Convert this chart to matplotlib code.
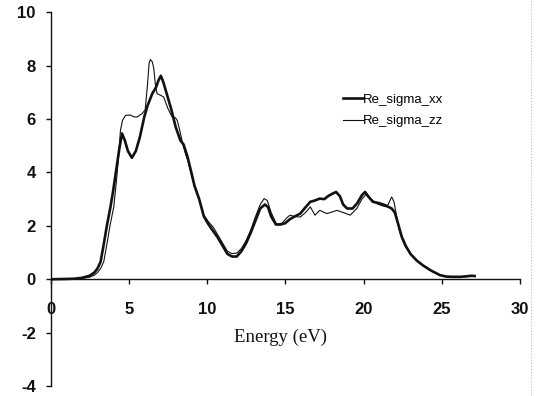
import matplotlib
matplotlib.use("Agg")
import matplotlib.pyplot as plt
from matplotlib.lines import Line2D

# Re_sigma_xx (thick line)
energy_xx = [0.0, 1.0, 1.5, 2.0, 2.5, 2.8, 3.0, 3.2, 3.4, 3.6, 3.83, 4.0, 4.2, 4.4, 4.57,
             4.75, 4.95, 5.2, 5.45, 5.7, 6.0, 6.2, 6.5, 6.75, 6.9, 7.05, 7.2, 7.35, 7.5,
             7.7, 8.0, 8.3, 8.5, 8.75, 9.0, 9.2, 9.5, 9.8, 10.1, 10.4, 10.7, 11.0, 11.3,
             11.6, 11.9, 12.2, 12.5, 12.8, 13.1, 13.4, 13.7, 13.9, 14.1, 14.4, 14.7, 15.0,
             15.3, 15.6, 15.96, 16.3, 16.6, 16.9, 17.2, 17.5, 17.7, 18.0, 18.25, 18.5,
             18.7, 18.95, 19.3, 19.6, 19.9, 20.1, 20.3, 20.6, 21.0, 21.4, 21.8, 22.0,
             22.2, 22.45, 22.7, 23.0, 23.4, 23.8, 24.3, 24.9, 25.3, 25.7, 26.2, 26.6,
             26.9, 27.1]
sigma_xx = [0.0, 0.01, 0.02, 0.05, 0.13, 0.25, 0.4, 0.65, 1.3, 2.0, 2.7, 3.3, 4.1, 4.9, 5.46,
            5.2, 4.8, 4.55, 4.8, 5.3, 6.1, 6.5, 6.95, 7.2, 7.45, 7.62, 7.4, 7.1, 6.8,
            6.4, 5.7, 5.2, 5.05, 4.6, 4.0, 3.5, 3.0, 2.35, 2.05, 1.8, 1.55, 1.25, 0.95,
            0.85, 0.85, 1.05, 1.35, 1.75, 2.2, 2.65, 2.8, 2.7, 2.35, 2.05, 2.05, 2.1,
            2.25, 2.35, 2.46, 2.7, 2.9, 2.95, 3.02, 3.0, 3.1, 3.2, 3.27, 3.1,
            2.8, 2.65, 2.65, 2.85, 3.15, 3.27, 3.1, 2.9, 2.85, 2.77, 2.65, 2.5,
            2.1, 1.58, 1.25, 0.95, 0.7, 0.52, 0.33, 0.15, 0.1, 0.09, 0.09, 0.11,
            0.13, 0.12]

# Re_sigma_zz (thin line)
energy_zz = [0.0, 1.0, 1.5, 2.0, 2.5, 2.8, 3.0, 3.2, 3.4, 3.6, 3.8, 4.04, 4.2, 4.35, 4.47,
             4.6, 4.8, 5.1, 5.35, 5.55, 5.7, 5.85, 6.05, 6.2, 6.3, 6.38, 6.5, 6.6, 6.7,
             6.81, 7.0, 7.23, 7.5, 7.75, 7.98, 8.1, 8.25, 8.4, 8.6, 8.8, 9.1, 9.5, 9.8,
             10.1, 10.4, 10.64, 11.0, 11.3, 11.6, 11.9, 12.2, 12.5, 12.8, 13.1, 13.4,
             13.65, 13.85, 14.1, 14.45, 14.8, 15.1, 15.3, 15.6, 15.96, 16.3, 16.6, 16.9,
             17.2, 17.66, 18.0, 18.3, 18.7, 19.15, 19.57, 19.9, 20.2, 20.5, 20.85, 21.2,
             21.5, 21.65, 21.8, 21.95, 22.1, 22.3, 22.5, 22.7, 23.0, 23.4, 23.8, 24.3,
             24.9, 25.3, 25.7, 26.2, 26.6, 26.9, 27.1]
sigma_zz = [0.0, 0.005, 0.01, 0.03, 0.08, 0.15, 0.25, 0.4, 0.65, 1.3, 2.0, 2.7, 3.6, 4.6, 5.58,
            5.95, 6.14, 6.15, 6.08, 6.08, 6.15, 6.2, 6.35, 7.3, 8.1, 8.23, 8.15, 7.9, 7.3,
            6.95, 6.9, 6.83, 6.4, 6.1, 6.05, 5.95, 5.6, 5.2, 4.75, 4.4, 3.7, 3.0, 2.4,
            2.15, 1.95, 1.71, 1.35, 1.05, 0.96, 0.98, 1.15, 1.45, 1.85, 2.35, 2.8,
            3.02, 2.95, 2.5, 2.05, 2.1, 2.3, 2.4, 2.35, 2.33, 2.5, 2.71, 2.4,
            2.58, 2.46, 2.52, 2.58, 2.5, 2.4, 2.65, 3.0, 3.21, 3.0, 2.83, 2.75,
            2.71, 2.9, 3.08, 2.9, 2.4, 1.8, 1.45, 1.2, 0.95, 0.7, 0.5, 0.32,
            0.14, 0.09, 0.08, 0.08, 0.1, 0.12, 0.11]

x_ticks = [0, 5, 10, 15, 20, 25, 30]
y_ticks = [-4, -2, 0, 2, 4, 6, 8, 10]
labels = ["Re_sigma_xx", "Re_sigma_zz"]
x_label = "Energy (eV)"

fig = plt.figure(figsize=(5.48, 3.96), dpi=100)
ax = fig.add_axes([50.5 / 548, 10 / 396, 469.5 / 548, 373.7 / 396])

ax.plot(energy_xx, sigma_xx, color="#111111", lw=1.9, label=labels[0], solid_joinstyle="round")
ax.plot(energy_zz, sigma_zz, color="#111111", lw=0.8, label=labels[1], solid_joinstyle="round")

ax.set_xlim(0, 30)
ax.set_ylim(-4, 10)
ax.spines["top"].set_visible(False)
ax.spines["right"].set_visible(False)
ax.spines["bottom"].set_position(("data", 0))
for s in ("left", "bottom"):
    ax.spines[s].set_linewidth(1.0)
    ax.spines[s].set_color("#111111")

ax.set_xticks(x_ticks)
ax.set_yticks(y_ticks)
ax.set_xticklabels([str(v) for v in x_ticks], fontfamily="Liberation Sans",
                   fontweight="bold", fontsize=12)
ax.set_yticklabels([str(v) for v in y_ticks], fontfamily="Liberation Sans",
                   fontweight="bold", fontsize=12)
ax.tick_params(axis="x", direction="out", length=3.6, width=1.0, pad=13, colors="#111111")
ax.tick_params(axis="y", direction="out", length=3.6, width=1.0, pad=7, colors="#111111")

ax.text(14.7, -2.17, x_label, ha="center", va="center",
        fontfamily="Liberation Serif", fontsize=13.5, color="#111111")

leg = ax.legend(loc="upper left", bbox_to_anchor=(0.624, 0.782), frameon=False,
                prop={"family": "Liberation Sans", "size": 9.5},
                handlelength=1.45, handletextpad=0.0, borderpad=0.0,
                borderaxespad=0.0, labelspacing=0.7)

fig.add_artist(Line2D([531 / 548, 531 / 548], [0, 1], transform=fig.transFigure,
                      ls=":", color="#bbbbbb", lw=0.8))

fig.savefig("out.png", dpi=100)
